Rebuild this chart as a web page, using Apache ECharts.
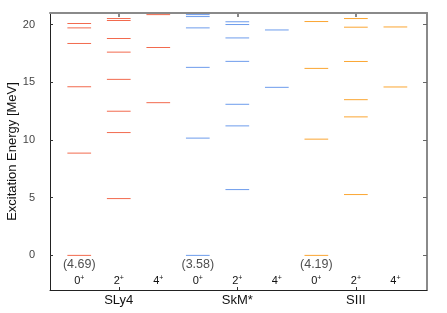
<!DOCTYPE html>
<html><head><meta charset="utf-8">
<script src="https://cdn.jsdelivr.net/npm/echarts@6/dist/echarts.min.js"></script>
<style>html,body{margin:0;padding:0;background:#fff}#c{width:447px;height:313px}</style>
</head><body><div id="c"></div>
<script>
var groups = ['SLy4', 'SkM*', 'SIII'];
var spins = ['0', '2', '4'];
var groundLabels = ['(4.69)', '(3.58)', '(4.19)'];
var colors = ['#f26a4e', '#6d9cec', '#fba632'];
var yTicks = [0, 5, 10, 15, 20];

var sly4_0 = [0, 8.86, 14.61, 18.36, 19.71, 20.09];
var sly4_2 = [4.92, 10.64, 12.49, 15.25, 17.61, 18.79, 20.35, 20.52];
var sly4_4 = [13.23, 18.01, 20.86];
var skm_0 = [0, 10.16, 16.29, 19.71, 20.69, 20.86];
var skm_2 = [5.70, 11.22, 13.09, 16.81, 18.84, 20.0, 20.24];
var skm_4 = [14.56, 19.53];
var s3_0 = [0, 10.07, 16.2, 20.26];
var s3_2 = [5.27, 12.0, 13.49, 16.8, 19.77, 20.52];
var s3_4 = [14.59, 19.79];

var levels = [[sly4_0, sly4_2, sly4_4], [skm_0, skm_2, skm_4], [s3_0, s3_2, s3_4]];
var offsets = [-1/3, 0, 1/3];
var halfW = 0.1;

var series = [];
var spinPos = [], spinText = [];
levels.forEach(function (g, gi) {
  var data = [];
  g.forEach(function (arr, si) {
    var x = gi + 1 + offsets[si];
    spinPos.push(x); spinText.push(spins[si]);
    arr.forEach(function (e) { data.push([x, e]); });
  });
  series.push({
    type: 'custom', name: groups[gi], clip: true, data: data, z: 5,
    renderItem: (function (col) {
      return function (params, api) {
        var x = api.value(0), y = api.value(1);
        var p1 = api.coord([x - halfW, y]);
        var p2 = api.coord([x + halfW, y]);
        return { type: 'line', shape: { x1: p1[0], y1: p1[1], x2: p2[0], y2: p2[1] },
          style: { stroke: col, lineWidth: 1 } };
      };
    })(colors[gi])
  });
});
series.push({
  type: 'scatter', symbolSize: 0,
  data: groundLabels.map(function (t, i) { return { value: [i + 1 - 1/3, 0], name: t }; }),
  label: { show: true, position: 'bottom', distance: 3, formatter: '{b}', color: '#222', fontSize: 12.5, fontFamily: 'Liberation Sans, Arial' },
  silent: true
});

function nearestSpin(v) {
  var best = 0, bd = 1e9;
  spinPos.forEach(function (p, i) { var d = Math.abs(p - v); if (d < bd) { bd = d; best = i; } });
  return spinText[best];
}

var chart = echarts.init(document.getElementById('c'), null, { renderer: 'canvas' });
chart.setOption({
  animation: false,
  textStyle: { fontFamily: 'Liberation Sans, Arial' },
  grid: { left: 50, right: 20, top: 13, bottom: 23, containLabel: false, outerBoundsMode: 'none' },
  xAxis: [
    { type: 'value', min: 0.42, max: 3.6, position: 'bottom',
      axisLine: { show: true, onZero: false, lineStyle: { color: '#222', width: 1 } },
      axisTick: { show: true, inside: true, length: 3, customValues: [1, 2, 3], lineStyle: { color: '#333' } },
      axisLabel: { show: true, customValues: [1, 2, 3], margin: 4, color: '#111', fontSize: 13,
        formatter: function (v) { return groups[Math.round(v) - 1]; } },
      splitLine: { show: false } },
    { type: 'value', min: 0.42, max: 3.6, position: 'bottom',
      axisLine: { show: false, onZero: false }, axisTick: { show: false }, splitLine: { show: false },
      axisLabel: { show: true, inside: true, margin: 3, customValues: spinPos,
        formatter: function (v) { return '{b|' + nearestSpin(v) + '}{s|+}'; },
        rich: { b: { fontSize: 11, color: '#111' }, s: { fontSize: 7, color: '#111', verticalAlign: 'top', padding: [0, 0, 5, 0] } } } },
    { type: 'value', min: 0.42, max: 3.6, position: 'top',
      axisLine: { show: true, onZero: false, lineStyle: { color: '#8a8a8a', width: 2 } },
      axisTick: { show: true, inside: true, length: 4, customValues: [1, 2, 3], lineStyle: { color: '#888', width: 2 } },
      axisLabel: { show: false }, splitLine: { show: false } }
  ],
  yAxis: [
    { type: 'value', min: -3, max: 21, position: 'left',
      name: 'Excitation Energy [MeV]', nameLocation: 'middle', nameGap: 31, nameRotate: 90,
      nameMoveOverlap: false,
      nameTextStyle: { fontSize: 13, color: '#111' },
      axisLine: { show: true, onZero: false, lineStyle: { color: '#222', width: 1 } },
      axisTick: { show: true, inside: true, length: 3, customValues: yTicks, lineStyle: { color: '#333' } },
      axisLabel: { customValues: yTicks, margin: 15, color: '#444', fontSize: 11 },
      splitLine: { show: false } },
    { type: 'value', min: -3, max: 21, position: 'right',
      axisLine: { show: true, onZero: false, lineStyle: { color: '#8a8a8a', width: 2 } },
      axisTick: { show: true, inside: true, length: 4, customValues: yTicks, lineStyle: { color: '#666' } },
      axisLabel: { show: false }, splitLine: { show: false } }
  ],
  series: series
});
</script></body></html>
